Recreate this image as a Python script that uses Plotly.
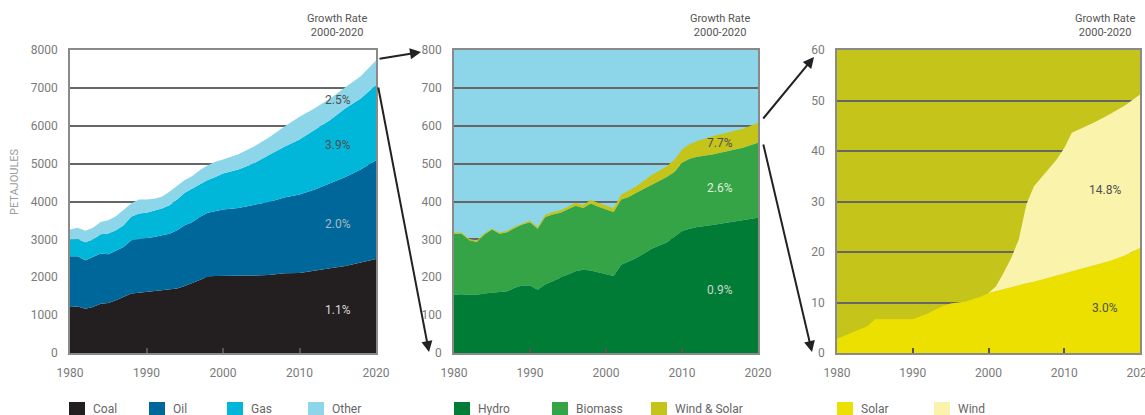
import plotly.graph_objects as go

# ---------------- data ----------------
years_a = [1980, 1981, 1982, 1983, 1984, 1985, 1986, 1987, 1988, 1989, 1990,
           1991, 1992, 1993, 1994, 1995, 1996, 1997, 1998, 1999, 2000,
           2002, 2004, 2006, 2008, 2010, 2012, 2014, 2016, 2018, 2020]
coal = [1215, 1230, 1170, 1215, 1300, 1320, 1390, 1480, 1570, 1590, 1610,
        1640, 1660, 1670, 1700, 1770, 1850, 1940, 2010, 2030, 2030,
        2040, 2045, 2060, 2105, 2115, 2170, 2240, 2300, 2390, 2485]
oil = [1340, 1325, 1280, 1325, 1325, 1290, 1310, 1320, 1410, 1420, 1420,
       1425, 1450, 1480, 1540, 1605, 1610, 1655, 1690, 1720, 1760,
       1790, 1855, 1930, 2000, 2070, 2145, 2235, 2350, 2455, 2605]
gas = [440, 455, 475, 455, 510, 545, 540, 575, 615, 670, 670,
       685, 705, 750, 810, 855, 885, 865, 865, 900, 950,
       1015, 1105, 1235, 1340, 1455, 1570, 1675, 1810, 1875, 1985]
other = [265, 300, 300, 315, 325, 350, 370, 395, 350, 370, 350,
         320, 310, 355, 355, 335, 325, 370, 395, 400, 370,
         405, 440, 465, 530, 600, 575, 570, 555, 590, 645]

years_b = [1980, 1981, 1982, 1983, 1984, 1985, 1986, 1987, 1988, 1989, 1990,
           1991, 1992, 1993, 1994, 1995, 1996, 1997, 1998, 1999, 2000,
           2001, 2002, 2003, 2004, 2005, 2006, 2007, 2008, 2009, 2010,
           2011, 2012, 2014, 2016, 2018, 2020]
hydro = [154, 155, 154, 154, 157, 159, 160, 163, 172, 178, 178,
         167, 181, 189, 197, 207, 216, 220, 218, 213, 210,
         203, 233, 242, 251, 263, 275, 284, 292, 307, 322,
         328, 333, 338, 344, 350, 357]
biomass = [161, 160, 144, 139, 156, 167, 155, 156, 158, 161, 167,
           161, 178, 177, 173, 172, 173, 163, 177, 173, 169,
           169, 172, 170, 172, 170, 170, 170, 173, 171, 180,
           185, 185, 186, 189, 192, 198]
wind_solar = [3, 3, 3, 4, 3, 3, 3, 4, 4, 4, 5,
              5, 6, 6, 7, 7, 8, 8, 9, 10, 10,
              11, 13, 16, 17, 22, 25, 27, 28, 32, 35,
              38, 42, 48, 48, 50, 53]

years_c = [1980, 1982, 1984, 1985, 1986, 1988, 1990, 1991, 1992, 1993, 1994,
           1995, 1996, 1997, 1998, 1999, 2000, 2001, 2002, 2003, 2004,
           2005, 2006, 2007, 2008, 2009, 2010, 2011, 2012, 2014, 2016,
           2018, 2020]
solar = [2.8, 4.0, 5.3, 6.7, 6.7, 6.6, 6.7, 7.3, 7.8, 8.6, 9.3,
         9.8, 10.0, 10.2, 10.7, 11.2, 11.9, 12.3, 12.7, 13.0, 13.4,
         13.8, 14.1, 14.5, 14.9, 15.3, 15.7, 16.1, 16.5, 17.3, 18.2,
         19.3, 20.8]
wind = [0, 0, 0, 0, 0, 0, 0, 0, 0, 0, 0,
        0, 0, 0, 0, 0, 0, 0.9, 3.2, 5.8, 9.1,
        15.6, 18.9, 20.2, 21.5, 23.0, 24.9, 27.5, 27.8, 28.4, 29.1,
        29.7, 30.4]

x_ticks = [1980, 1990, 2000, 2010, 2020]
growth_a = {"Coal": (1135, "1.1%"), "Oil": (3405, "2.0%"), "Gas": (5490, "3.9%"), "Other": (6680, "2.5%")}
growth_b = {"Hydro": (166, "0.9%"), "Biomass": (436, "2.6%"), "Wind & Solar": (554, "7.7%")}
growth_c = {"Solar": (8.9, "3.0%"), "Wind": (32.2, "14.8%")}

# ---------------- styles ----------------
COL = {
    "Coal": "#231f20", "Oil": "#00679a", "Gas": "#00b6d9", "Other": "#8dd5e9",
    "Hydro": "#007c37", "Biomass": "#35a446", "Wind & Solar": "#c4c41b",
    "Solar": "#ebe000", "Wind": "#faf3ab",
}
W, H = 1145, 415
FONT = "Roboto, 'DejaVu Sans', sans-serif"
TICKC = "#7a7a7a"

def px(x):
    return x / W

def py(y):
    return 1 - y / H

fig = go.Figure()

def add_stack(xs, ys, name, axis_idx, group):
    xa = "x" if axis_idx == 1 else f"x{axis_idx}"
    ya = "y" if axis_idx == 1 else f"y{axis_idx}"
    fig.add_trace(go.Scatter(
        x=xs, y=ys, name=name, stackgroup=group, mode="lines",
        line=dict(width=0, color=COL[name]), fillcolor=COL[name],
        xaxis=xa, yaxis=ya, showlegend=False, hoverinfo="x+y+name"))

for nm, vals in [("Coal", coal), ("Oil", oil), ("Gas", gas), ("Other", other)]:
    add_stack(years_a, vals, nm, 1, "a")
for nm, vals in [("Hydro", hydro), ("Biomass", biomass), ("Wind & Solar", wind_solar)]:
    add_stack(years_b, vals, nm, 2, "b")
for nm, vals in [("Solar", solar), ("Wind", wind)]:
    add_stack(years_c, vals, nm, 3, "c")

domains = [(70, 376), (454, 758), (837, 1140)]
ydom = [py(353), py(50)]
yranges = [(0, 8000, 1000), (0, 800, 100), (0, 60, 10)]

layout = dict(
    width=W, height=H, margin=dict(l=0, r=0, t=0, b=0, autoexpand=False),
    paper_bgcolor="white", plot_bgcolor="white",
    font=dict(family=FONT, size=12, color=TICKC),
    showlegend=False,
)
for i, ((x0, x1), (r0, r1, dt)) in enumerate(zip(domains, yranges), start=1):
    sx = "" if i == 1 else str(i)
    layout[f"xaxis{sx}"] = dict(
        domain=[px(x0), px(x1)], range=[1980, 2020], anchor=f"y{sx}",
        tickvals=x_ticks, ticktext=[str(v) for v in x_ticks],
        ticks="inside", ticklen=5, tickwidth=1.5, tickcolor="#555",
        showgrid=False, zeroline=False, automargin=False,
        ticklabeloverflow="allow",
        showline=True, linecolor="#8a8a8a", linewidth=1.5, mirror=True,
        ticklabelstandoff=8, tickfont=dict(size=12, color=TICKC, family=FONT),
    )
    layout[f"yaxis{sx}"] = dict(
        domain=ydom, range=[r0, r1], anchor=f"x{sx}", dtick=dt, tick0=0,
        ticks="", showgrid=True, gridcolor="#666666", gridwidth=1.5,
        zeroline=False, showline=True, linecolor="#8a8a8a", linewidth=1.5,
        mirror=True, ticklabelstandoff=8, automargin=False,
        tickfont=dict(size=12, color=TICKC, family=FONT),
    )
fig.update_layout(**layout)

# coloured backgrounds of the zoomed panels (remaining share)
fig.add_shape(type="rect", xref="x2 domain", yref="y2 domain", x0=0, x1=1, y0=0, y1=1,
              fillcolor=COL["Other"], line=dict(width=0), layer="below")
fig.add_shape(type="rect", xref="x3 domain", yref="y3 domain", x0=0, x1=1, y0=0, y1=1,
              fillcolor=COL["Wind & Solar"], line=dict(width=0), layer="below")

# growth rate labels
light = {"Coal": "#d8d8d8", "Oil": "#a9b8c4", "Gas": "#505050", "Other": "#505050",
         "Hydro": "#c9d9cc", "Biomass": "#dfeedd", "Wind & Solar": "#505050",
         "Solar": "#505050", "Wind": "#505050"}
for sx, xc, grp in [("", 2015, growth_a), ("2", 2015, growth_b), ("3", 2015.4, growth_c)]:
    for nm, (yv, txt) in grp.items():
        fig.add_annotation(x=xc, y=yv, xref=f"x{sx}", yref=f"y{sx}", text=txt,
                           xanchor="center", yanchor="middle",
                           showarrow=False, font=dict(size=12, color=light[nm], family=FONT))

for xc in [337, 720, 1105]:
    fig.add_annotation(x=px(xc), y=py(25.5), xref="paper", yref="paper",
                       xanchor="center", yanchor="middle",
                       text="Growth Rate<br>2000-2020", showarrow=False,
                       font=dict(size=11, color="#555", family=FONT), align="center")

fig.add_annotation(x=px(14), y=py(182), xref="paper", yref="paper", text="PETAJOULES",
                   xanchor="center", yanchor="middle",
                   textangle=-90, showarrow=False, font=dict(size=11, color="#9a9a9a", family=FONT))

# connecting arrows
for hx, hy, ax, ay in [(421, 52, -43, 7), (429, 352, -51, -266),
                       (814, 57, -52, 63), (812, 352, -49, -209)]:
    fig.add_annotation(x=px(hx), y=py(hy), xref="paper", yref="paper", text="",
                       showarrow=True, ax=ax, ay=ay, arrowhead=2, arrowsize=1.1,
                       arrowwidth=2, arrowcolor="#222")

# legends
legend_items = [("Coal", 69), ("Oil", 149), ("Gas", 227), ("Other", 308),
                ("Hydro", 454), ("Biomass", 552), ("Wind & Solar", 651),
                ("Solar", 837), ("Wind", 934)]
for nm, lx in legend_items:
    fig.add_shape(type="rect", xref="paper", yref="paper", x0=px(lx), x1=px(lx + 16),
                  y0=py(415), y1=py(402), fillcolor=COL[nm], line=dict(width=0))
    fig.add_annotation(x=px(lx + 22), y=py(409), xref="paper", yref="paper", text=nm,
                       xanchor="left", yanchor="middle", showarrow=False,
                       font=dict(size=12, color="#666", family=FONT))

fig.write_html("out.html", config={"displayModeBar": False},
               post_script="document.body.style.margin='0';document.body.style.overflow='hidden';")
